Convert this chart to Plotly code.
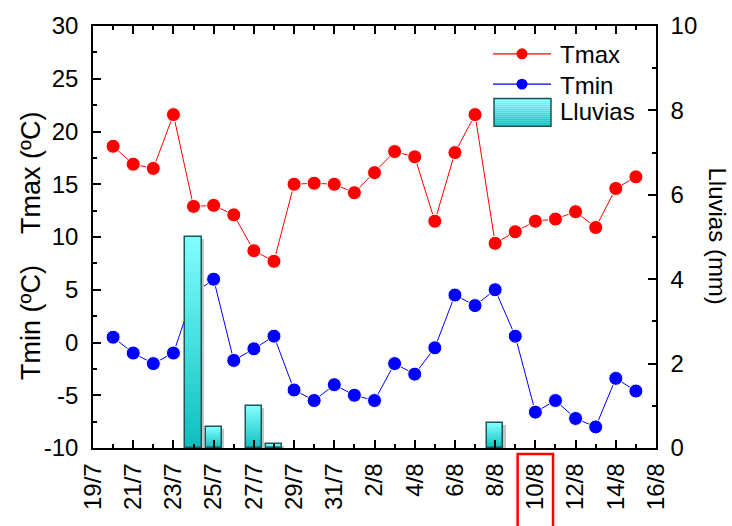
import plotly.graph_objects as go

# Días del periodo (eje X), 19/7 a 16/8
dias = ["19/7", "20/7", "21/7", "22/7", "23/7", "24/7", "25/7", "26/7", "27/7",
        "28/7", "29/7", "30/7", "31/7", "1/8", "2/8", "3/8", "4/8", "5/8", "6/8",
        "7/8", "8/8", "9/8", "10/8", "11/8", "12/8", "13/8", "14/8", "15/8", "16/8"]

# Series medidas del 20/7 al 15/8
dias_medidos = dias[1:28]
tmax = [18.6, 16.9, 16.5, 21.6, 12.9, 13.0, 12.1, 8.7, 7.7, 15.0, 15.1, 15.0, 14.2,
        16.1, 18.1, 17.6, 11.5, 18.0, 21.6, 9.4, 10.5, 11.5, 11.7, 12.4, 10.9, 14.6, 15.7]
tmin = [0.5, -1.0, -2.0, -1.0, 4.6, 6.0, -1.7, -0.6, 0.6, -4.5, -5.5, -4.0, -5.0,
        -5.5, -2.0, -3.0, -0.5, 4.5, 3.5, 5.0, 0.6, -6.6, -5.5, -7.2, -8.0, -3.4, -4.6]
lluvias = [0, 0, 0, 0, 5.0, 0.5, 0, 1.0, 0.1, 0, 0, 0, 0,
           0, 0, 0, 0, 0, 0, 0.6, 0, 0, 0, 0, 0, 0, 0]

# Marcas de los ejes
temp_ticks = [-10, -5, 0, 5, 10, 15, 20, 25, 30]
temp_labels = ["-10", "-5", "0", "5", "10", "15", "20", "25", "30"]

dia_marcado = "10/8"

FONT = "Arial, Liberation Sans, sans-serif"
FS = 24
ROJO, AZUL = "#ff0000", "#0000ff"
C_BOT, C_TOP = (14, 190, 190), (128, 255, 255)
BORDE = "#1f5555"

# Geometría del área de trazado (px) para colocar la leyenda
W, H = 732, 526
ML, MR, MT, MB = 93, 76, 23, 78
PW, PH = W - ML - MR, H - MT - MB


def px(x):
    return (x - ML) / PW


def py(y):
    return (H - MB - y) / PH


def mezcla(t):
    return "rgb({},{},{})".format(*[round(a + (b - a) * t) for a, b in zip(C_BOT, C_TOP)])


pos = {d: i for i, d in enumerate(dias)}
xm = [pos[d] for d in dias_medidos]

fig = go.Figure()

fig.add_trace(go.Scatter(
    x=xm, y=tmax, name="Tmax", mode="lines+markers",
    line=dict(color=ROJO, width=1),
    marker=dict(color=ROJO, size=14, line=dict(color="white", width=1)),
))
fig.add_trace(go.Scatter(
    x=xm, y=tmin, name="Tmin", mode="lines+markers",
    line=dict(color=AZUL, width=1),
    marker=dict(color=AZUL, size=14, line=dict(color="white", width=1)),
))

# Lluvias: sombra, barras con degradado (tramos apilados) y contorno oscuro
xl = [x for x, v in zip(xm, lluvias) if v > 0]
vl = [v for v in lluvias if v > 0]
BAR_W = 0.8
N = 30

fig.add_trace(go.Bar(
    x=xl, y=[v - 0.05 for v in vl], width=BAR_W, offset=-BAR_W / 2 + 0.12,
    yaxis="y2", name="Lluvias", hoverinfo="skip",
    marker=dict(color="#c4c4c4", line=dict(width=0)),
))
for k in range(N):
    fig.add_trace(go.Bar(
        x=xl, y=[v / N for v in vl], base=[v * k / N for v in vl],
        width=BAR_W, yaxis="y2", name="Lluvias", hoverinfo="skip",
        marker=dict(color=mezcla((k + 0.5) / N), line=dict(width=0)),
    ))
fig.add_trace(go.Bar(
    x=xl, y=vl, width=BAR_W, yaxis="y2", name="Lluvias",
    marker=dict(color="rgba(0,0,0,0)", line=dict(color=BORDE, width=1.5)),
))

shapes = []
annotations = []

# Recuadro rojo sobre la etiqueta del día marcado
xd = pos[dia_marcado]
shapes.append(dict(type="rect", xref="x", yref="paper",
                   x0=xd - 0.88, x1=xd + 0.88, y0=-0.25, y1=-0.014,
                   line=dict(color=ROJO, width=2.5)))

# Leyenda
LX0, LX1, LTX = 493, 551, 558
for nombre, color, yc in (("Tmax", ROJO, 51), ("Tmin", AZUL, 81.5)):
    shapes.append(dict(type="line", xref="paper", yref="paper",
                       x0=px(LX0), x1=px(LX1), y0=py(yc), y1=py(yc),
                       line=dict(color=color, width=1.2)))
    shapes.append(dict(type="circle", xref="paper", yref="paper",
                       x0=px(522 - 5.5), x1=px(522 + 5.5), y0=py(yc + 5.5), y1=py(yc - 5.5),
                       fillcolor=color, line=dict(color=color, width=0)))
    annotations.append(dict(text=nombre, xref="paper", yref="paper", x=px(LTX), y=py(yc + 1),
                            xanchor="left", yanchor="middle", showarrow=False,
                            font=dict(family=FONT, size=FS)))
BY0, BY1 = 96, 124
NB = 14
for k in range(NB):
    ya = BY1 - (BY1 - BY0) * k / NB
    yb = BY1 - (BY1 - BY0) * (k + 1) / NB
    shapes.append(dict(type="rect", xref="paper", yref="paper",
                       x0=px(LX0 + 1), x1=px(LX1), y0=py(ya), y1=py(yb),
                       fillcolor=mezcla((k + 0.5) / NB), line=dict(width=0)))
shapes.append(dict(type="rect", xref="paper", yref="paper",
                   x0=px(LX0 + 1), x1=px(LX1), y0=py(BY1), y1=py(BY0),
                   line=dict(color=BORDE, width=1.5)))
annotations.append(dict(text="Lluvias", xref="paper", yref="paper", x=px(LTX), y=py(109.5),
                        xanchor="left", yanchor="middle", showarrow=False,
                        font=dict(family=FONT, size=FS)))

# Títulos de los ejes
annotations += [
    dict(text="Tmax (ºC)", xref="paper", yref="paper", x=px(31), y=py(171),
         xanchor="center", yanchor="middle", textangle=-90, showarrow=False,
         font=dict(family=FONT, size=27)),
    dict(text="Tmin (ºC)", xref="paper", yref="paper", x=px(31), y=py(322),
         xanchor="center", yanchor="middle", textangle=-90, showarrow=False,
         font=dict(family=FONT, size=27)),
    dict(text="Lluvias (mm)", xref="paper", yref="paper", x=px(717), y=py(234),
         xanchor="center", yanchor="middle", textangle=90, showarrow=False,
         font=dict(family=FONT, size=FS)),
]

axis_common = dict(
    showgrid=False, zeroline=False, showline=True, linecolor="black", linewidth=1.5,
    ticks="inside", tickcolor="black", tickwidth=1.5, ticklen=8,
    tickfont=dict(family=FONT, size=FS, color="black"),
)

fig.update_layout(
    width=W, height=H,
    margin=dict(l=ML, r=MR, t=MT, b=MB),
    paper_bgcolor="white", plot_bgcolor="white",
    barmode="overlay", bargap=0, showlegend=False,
    font=dict(family=FONT, size=FS, color="black"),
    xaxis=dict(
        **axis_common, range=[0, len(dias) - 1], mirror="ticks",
        tickvals=list(range(0, len(dias), 2)), ticktext=dias[::2], tickangle=-90,
        ticklabelstandoff=4,
        minor=dict(ticks="inside", ticklen=4, tickvals=list(range(len(dias))),
                   tickcolor="black", tickwidth=1.5),
    ),
    yaxis=dict(
        **axis_common, range=[-10, 30], tickvals=temp_ticks, ticktext=temp_labels,
        mirror=True, ticklabelstandoff=8,
        minor=dict(ticks="inside", ticklen=4,
                   tickvals=[t + 2.5 for t in temp_ticks[:-1]],
                   tickcolor="black", tickwidth=1.5),
    ),
    yaxis2=dict(
        **axis_common, range=[0, 10], dtick=2, side="right", overlaying="y",
        ticklabelstandoff=8,
        minor=dict(ticks="inside", ticklen=4, dtick=1, tickcolor="black", tickwidth=1.5),
    ),
    shapes=shapes,
    annotations=annotations,
)

fig.write_html("out.html")
